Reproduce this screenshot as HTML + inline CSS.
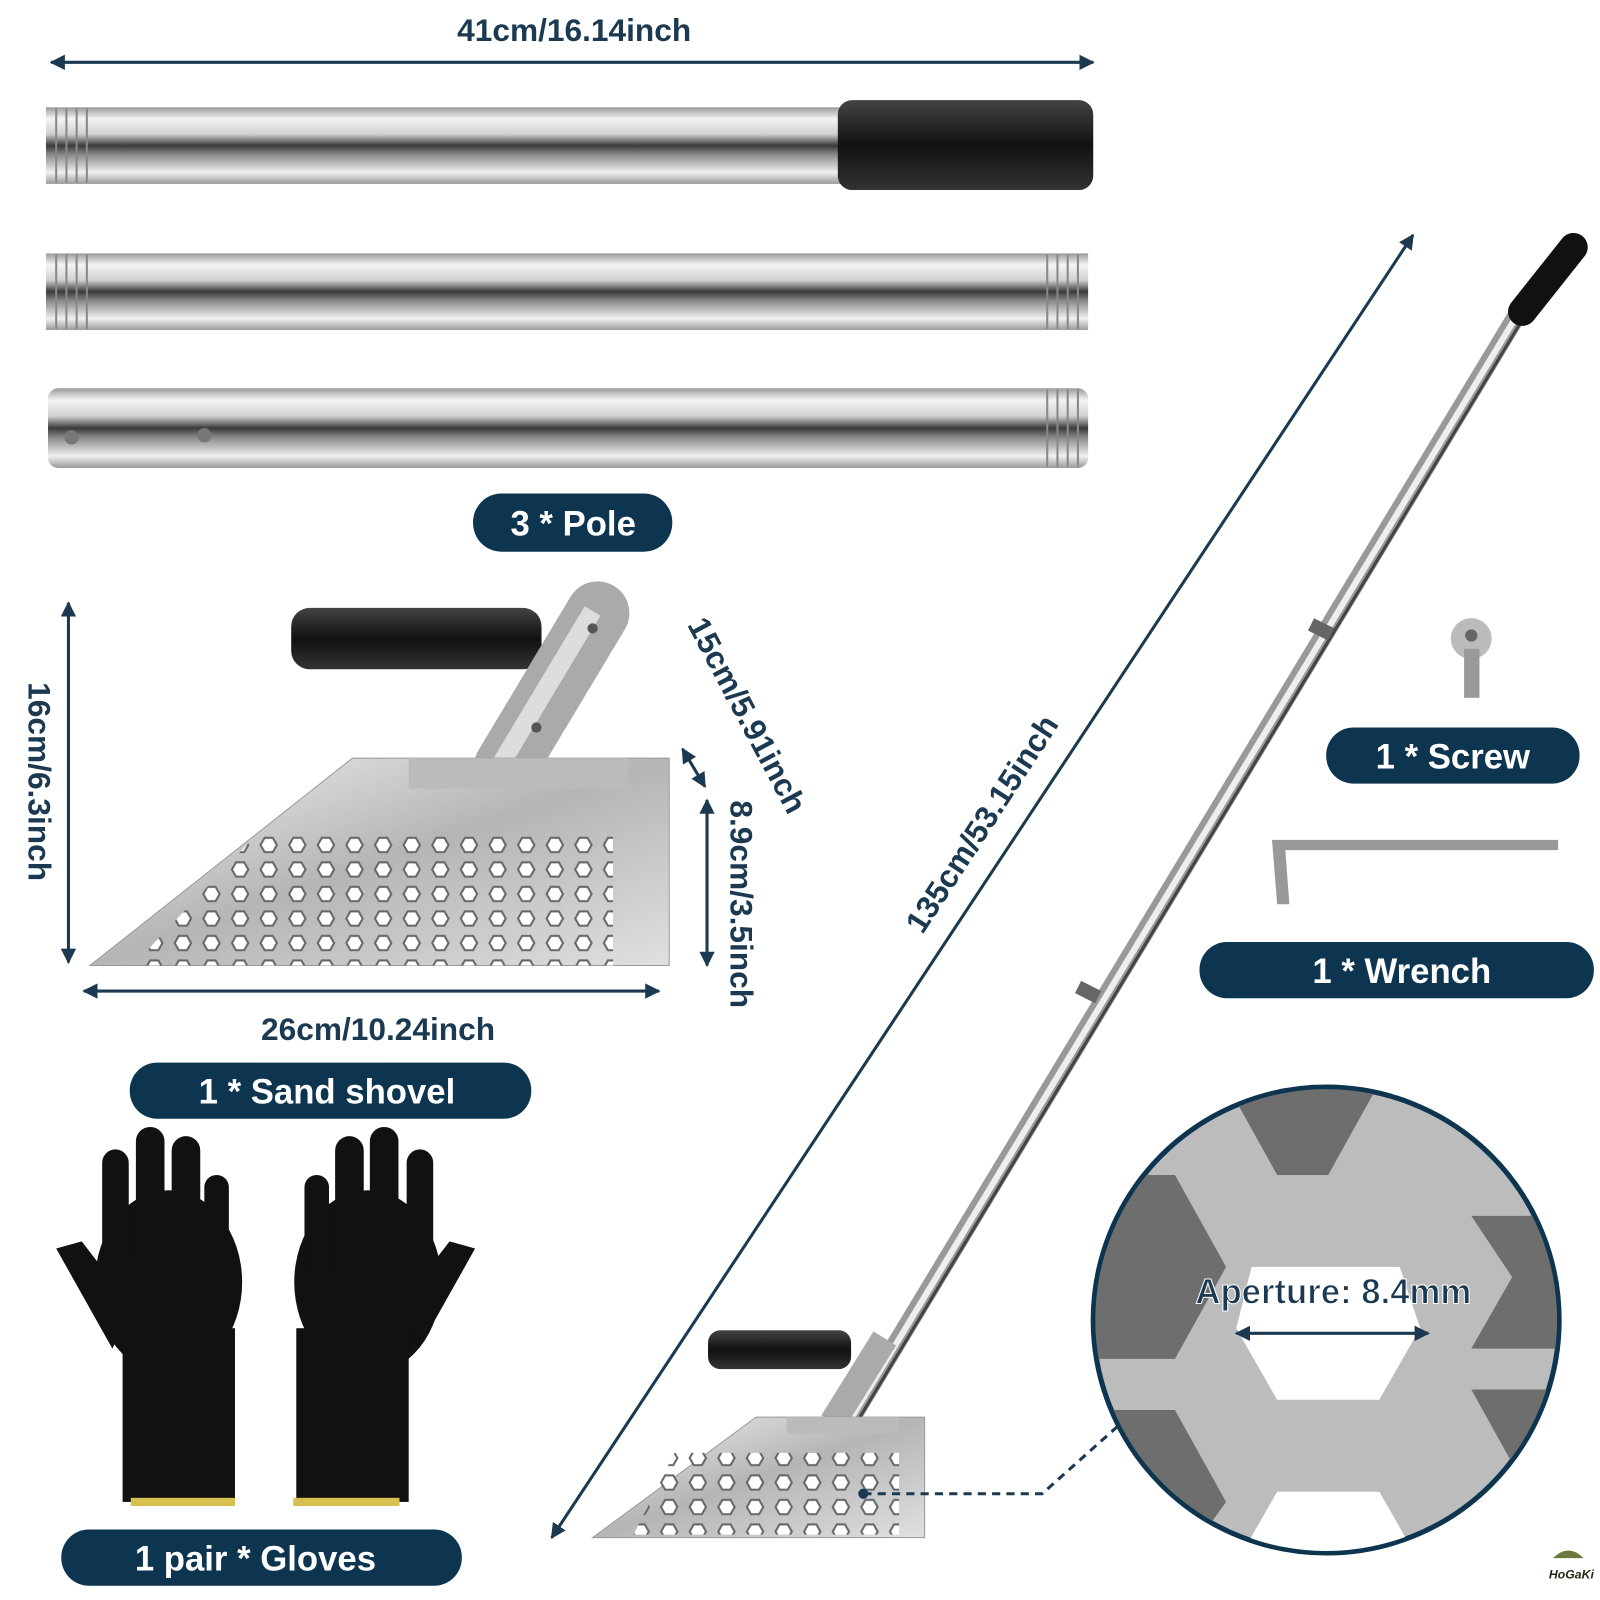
<!DOCTYPE html>
<html><head><meta charset="utf-8"><style>html,body{margin:0;padding:0;background:#fff}svg{display:block}</style></head><body>
<svg width="1600" height="1600" viewBox="0 0 1566 1566" xmlns="http://www.w3.org/2000/svg" font-family="Liberation Sans, sans-serif" font-weight="bold">
<defs>
<linearGradient id="m" x1="0" y1="0" x2="0" y2="1">
<stop offset="0" stop-color="#9a9a9a"/><stop offset=".15" stop-color="#f4f4f4"/><stop offset=".35" stop-color="#d0d0d0"/><stop offset=".5" stop-color="#3a3a3a"/><stop offset=".62" stop-color="#8a8a8a"/><stop offset=".85" stop-color="#f0f0f0"/><stop offset="1" stop-color="#9a9a9a"/></linearGradient>
<linearGradient id="b" x1="0" y1="0" x2="0" y2="1"><stop offset="0" stop-color="#444"/><stop offset=".5" stop-color="#111"/><stop offset="1" stop-color="#333"/></linearGradient>
<linearGradient id="s" x1="0" y1="0" x2="1" y2="1"><stop offset="0" stop-color="#f2f2f2"/><stop offset=".5" stop-color="#b5b5b5"/><stop offset="1" stop-color="#e0e0e0"/></linearGradient>
<marker id="a" viewBox="0 0 10 10" refX="9" refY="5" markerWidth="5" markerHeight="5" orient="auto-start-reverse"><path d="M0,0L10,5L0,10z" fill="#1b3a52"/></marker>
<pattern id="h" width="28" height="24" patternUnits="userSpaceOnUse"><polygon points="7,4 15,4 19,11 15,18 7,18 3,11" fill="#fff" stroke="#666" stroke-width="2"/></pattern>
<clipPath id="c"><circle cx="1298" cy="1292" r="226"/></clipPath>
</defs>
<g fill="#1b3a52">
<text x="562" y="40" font-size="31" text-anchor="middle">41cm/16.14inch</text>
<text x="370" y="1018" font-size="31" text-anchor="middle">26cm/10.24inch</text>
<text transform="translate(28,765) rotate(90)" font-size="31" text-anchor="middle">16cm/6.3inch</text>
<text transform="translate(715,885) rotate(90)" font-size="31" text-anchor="middle">8.9cm/3.5inch</text>
<text transform="translate(722,705) rotate(62)" font-size="31" text-anchor="middle">15cm/5.91inch</text>
<text transform="translate(970,812) rotate(-57)" font-size="31" text-anchor="middle">135cm/53.15inch</text>
</g>
<g stroke="#1b3a52" stroke-width="3" marker-start="url(#a)" marker-end="url(#a)" fill="none">
<line x1="50" y1="61" x2="1070" y2="61"/>
<line x1="67" y1="590" x2="67" y2="942"/>
<line x1="82" y1="970" x2="645" y2="970"/>
<line x1="692" y1="783" x2="692" y2="945"/>
<line x1="668" y1="733" x2="690" y2="770"/>
<line x1="540" y1="1505" x2="1383" y2="230"/>
</g>
<!-- poles -->
<rect x="45" y="105" width="800" height="75" fill="url(#m)"/>
<rect x="820" y="98" width="250" height="88" rx="14" fill="url(#b)"/>
<rect x="45" y="248" width="1020" height="75" fill="url(#m)"/>
<rect x="47" y="380" width="1018" height="78" rx="10" fill="url(#m)"/>
<g stroke="#888" stroke-width="2">
<line x1="55" y1="106" x2="55" y2="179"/><line x1="65" y1="106" x2="65" y2="179"/><line x1="75" y1="106" x2="75" y2="179"/><line x1="85" y1="106" x2="85" y2="179"/>
<line x1="55" y1="249" x2="55" y2="322"/><line x1="65" y1="249" x2="65" y2="322"/><line x1="75" y1="249" x2="75" y2="322"/><line x1="85" y1="249" x2="85" y2="322"/>
<line x1="1025" y1="249" x2="1025" y2="322"/><line x1="1035" y1="249" x2="1035" y2="322"/><line x1="1045" y1="249" x2="1045" y2="322"/><line x1="1055" y1="249" x2="1055" y2="322"/>
<line x1="1025" y1="381" x2="1025" y2="457"/><line x1="1035" y1="381" x2="1035" y2="457"/><line x1="1045" y1="381" x2="1045" y2="457"/><line x1="1055" y1="381" x2="1055" y2="457"/>
</g>
<circle cx="70" cy="428" r="7" fill="#777"/><circle cx="200" cy="426" r="7" fill="#777"/>
<!-- pills -->
<g fill="#0d3550">
<rect x="463" y="483" width="195" height="57" rx="28"/>
<rect x="127" y="1040" width="393" height="55" rx="27"/>
<rect x="60" y="1497" width="392" height="55" rx="27"/>
<rect x="1298" y="712" width="248" height="55" rx="27"/>
<rect x="1174" y="922" width="386" height="55" rx="27"/>
</g>
<g fill="#fff" font-size="34" text-anchor="middle">
<text x="561" y="524">3 * Pole</text>
<text x="320" y="1080">1 * Sand shovel</text>
<text x="250" y="1537">1 pair * Gloves</text>
<text x="1422" y="752">1  * Screw</text>
<text x="1372" y="962">1  * Wrench</text>
</g>
<!-- shovel -->
<rect x="285" y="595" width="245" height="60" rx="18" fill="url(#b)"/>
<line x1="585" y1="600" x2="495" y2="750" stroke="#aaa" stroke-width="62" stroke-linecap="round"/>
<line x1="580" y1="598" x2="490" y2="748" stroke="#ddd" stroke-width="18"/>
<circle cx="580" cy="615" r="5" fill="#555"/><circle cx="525" cy="712" r="5" fill="#555"/>
<polygon points="88,945 345,742 655,742 655,945" fill="url(#s)" stroke="#999"/>
<rect x="400" y="742" width="215" height="30" fill="#bbb"/>
<polygon points="250,818 600,818 600,945 130,945" fill="url(#h)"/>
<!-- gloves -->
<g fill="#111">
<ellipse cx="165" cy="1255" rx="72" ry="90"/>
<rect x="100" y="1125" width="26" height="130" rx="13"/>
<rect x="133" y="1103" width="28" height="140" rx="14"/>
<rect x="168" y="1112" width="28" height="130" rx="14"/>
<rect x="200" y="1150" width="24" height="110" rx="12"/>
<path d="M55,1222 L80,1215 L130,1280 L110,1320 Z"/>
<rect x="120" y="1300" width="110" height="170"/>
<ellipse cx="360" cy="1255" rx="72" ry="90"/>
<rect x="398" y="1125" width="26" height="130" rx="13"/>
<rect x="362" y="1103" width="28" height="140" rx="14"/>
<rect x="328" y="1112" width="28" height="130" rx="14"/>
<rect x="298" y="1150" width="24" height="110" rx="12"/>
<path d="M465,1222 L440,1215 L390,1280 L410,1320 Z"/>
<rect x="290" y="1300" width="110" height="170"/>
</g>
<rect x="128" y="1466" width="102" height="8" fill="#d8c050"/><rect x="287" y="1466" width="104" height="8" fill="#d8c050"/>
<!-- assembled -->
<line x1="832" y1="1390" x2="1490" y2="300" stroke="#999" stroke-width="18"/>
<line x1="832" y1="1390" x2="1490" y2="300" stroke="#eee" stroke-width="6"/>
<line x1="838" y1="1393" x2="1496" y2="303" stroke="#444" stroke-width="3"/>
<line x1="1296" y1="610" x2="1290" y2="622" stroke="#666" stroke-width="22"/>
<line x1="1068" y1="965" x2="1062" y2="977" stroke="#666" stroke-width="22"/>
<line x1="1490" y1="305" x2="1540" y2="242" stroke="#111" stroke-width="28" stroke-linecap="round"/>
<rect x="693" y="1302" width="140" height="38" rx="12" fill="url(#b)"/>
<line x1="866" y1="1310" x2="815" y2="1392" stroke="#aaa" stroke-width="26"/>
<polygon points="580,1505 740,1387 905,1387 905,1505" fill="url(#s)" stroke="#999"/>
<rect x="770" y="1387" width="110" height="16" fill="#bbb"/>
<polygon points="660,1422 880,1422 880,1502 620,1502" fill="url(#h)"/>
<!-- screw & wrench -->
<circle cx="1440" cy="625" r="20" fill="#bbb"/><circle cx="1440" cy="622" r="6" fill="#666"/><rect x="1433" y="635" width="15" height="48" fill="#999"/>
<path d="M1250,885 L1245,822 L1525,822 L1525,832 L1258,832 L1262,885 Z" fill="#999"/>
<!-- circle detail -->
<circle cx="1298" cy="1292" r="228" fill="#bcbcbc" stroke="#0d3550" stroke-width="5"/>
<g clip-path="url(#c)" fill="#6e6e6e">
<polygon points="1200,1060 1350,1060 1300,1150 1250,1150"/>
<polygon points="1060,1150 1150,1150 1200,1240 1150,1330 1060,1330"/>
<polygon points="1440,1190 1530,1190 1530,1320 1440,1320 1480,1250"/>
<polygon points="1225,1240 1370,1240 1390,1300 1350,1370 1250,1370 1210,1300" fill="#fff"/>
<polygon points="1080,1380 1150,1380 1200,1470 1150,1540 1080,1540"/>
<polygon points="1440,1360 1530,1360 1530,1540 1440,1540 1490,1450"/>
<polygon points="1250,1460 1350,1460 1390,1530 1210,1530" fill="#fff"/>
</g>
<text x="1305" y="1276" font-size="34" font-weight="bold" text-anchor="middle" fill="#1b3a52" stroke="#fff" stroke-width="1">Aperture: 8.4mm</text>
<line x1="1210" y1="1305" x2="1398" y2="1305" stroke="#1b3a52" stroke-width="3" marker-start="url(#a)" marker-end="url(#a)"/>
<polyline points="845,1462 1020,1462 1095,1395" fill="none" stroke="#1b3a52" stroke-width="3" stroke-dasharray="8,6"/>
<circle cx="845" cy="1462" r="5" fill="#1b3a52"/>
<text x="1538" y="1545" font-size="12" font-style="italic" fill="#1f2a10" text-anchor="middle">HoGaKi</text>
<path d="M1520,1525 q15,-15 30,0" fill="#6b7a3a"/>
</svg>
</body></html>
